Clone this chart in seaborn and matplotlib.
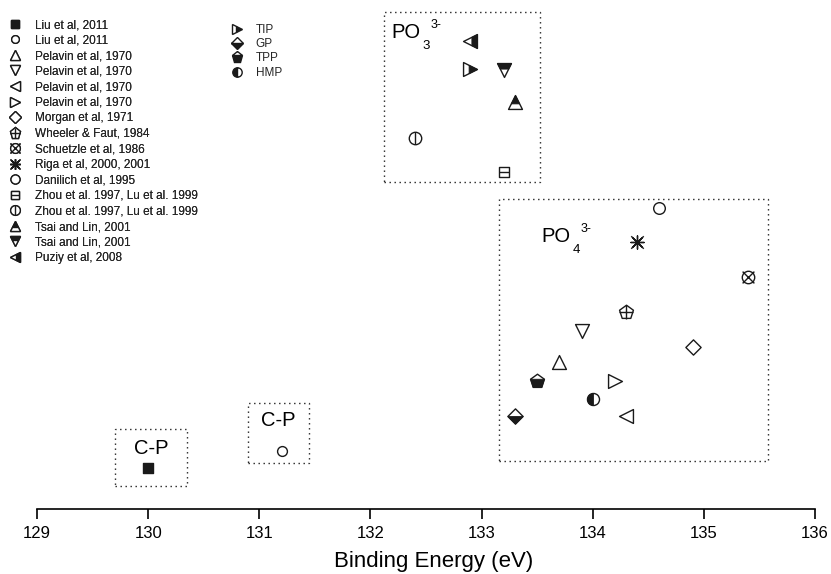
import warnings
warnings.filterwarnings("ignore")
import matplotlib
matplotlib.use("Agg")
import matplotlib.pyplot as plt
import seaborn as sns
from matplotlib.markers import MarkerStyle
from matplotlib.lines import Line2D
from matplotlib.patches import Rectangle
from matplotlib.legend_handler import HandlerTuple

# ---------------- data ----------------
ref_labels = ["Liu et al, 2011", "Liu et al, 2011",
              "Pelavin et al, 1970", "Pelavin et al, 1970",
              "Pelavin et al, 1970", "Pelavin et al, 1970",
              "Morgan et al, 1971", "Wheeler & Faut, 1984",
              "Schuetzle et al, 1986", "Riga et al, 2000, 2001",
              "Danilich et al, 1995", "Zhou et al. 1997, Lu et al. 1999",
              "Zhou et al. 1997, Lu et al. 1999", "Tsai and Lin, 2001",
              "Tsai and Lin, 2001", "Puziy et al, 2008"]
ref_be = [130.0, 131.2, 133.7, 133.9, 134.3, 134.2, 134.9, 134.3,
          135.4, 134.4, 134.6, 133.2, 132.4, 133.3, 133.2, 132.9]
ref_y = [41, 58, 147, 178, 93, 128, 162, 197,
         232, 267, 301, 337, 371, 407, 439, 468]

comp_labels = ["TIP", "GP", "TPP", "HMP"]
comp_be = [132.9, 133.3, 133.5, 134.0]
comp_y = [440, 93, 128, 110]

xticks = [129, 130, 131, 132, 133, 134, 135, 136]

# group boxes: (x0, x1, y0, y1) and labels
box_x0 = [129.70, 130.90, 132.12, 133.16]
box_x1 = [130.35, 131.45, 133.53, 135.58]
box_y0 = [23, 46, 327, 48]
box_y1 = [80, 106, 497, 310]
group_text = ["C-P", "C-P", "PO", "PO"]
group_sub = [None, None, "3", "4"]
group_sup = [None, None, "3-", "3-"]
group_tx = [130.03, 131.17, 132.19, 133.54]
group_ty = [55, 83, 471, 267]
group_ha = ["center", "center", "left", "left"]

# ---------------- styles ----------------
ref_markers = ['s', 'o', '^', 'v', '<', '>', 'D', 'p', 'o', (8, 2, 0),
               'o', 's', 'o', '^', 'v', '<']
ref_fills = ['full', 'none', 'none', 'none', 'none', 'none', 'none', 'none',
             'none', 'line', 'none', 'none', 'none', 'top', 'top', 'right']
ref_extra = [None, None, None, None, None, None, None, '+', 'x', 'x',
             None, '_', '|', None, None, None]
ref_sizes = [50, 50, 100, 100, 100, 100, 60, 110, 80, 90, 70, 55, 80,
             100, 100, 100]

comp_markers = ['>', 'D', 'p', 'o']
comp_fills = ['right', 'bottom', 'bottom', 'left']
comp_sizes = [100, 60, 110, 75]

sns.set_theme(style="white")
plt.rcParams['font.family'] = ['Liberation Sans', 'DejaVu Sans']

fig = plt.figure(figsize=(8.31, 5.74), dpi=100)
ax = fig.add_axes([37 / 831, 1 - 509 / 574, 778 / 831, 507 / 574])


def draw_point(x, y, m, fill, extra, s):
    if fill == 'full':
        sns.scatterplot(x=[x], y=[y], marker=m, s=s, color='k',
                        edgecolor='k', linewidth=1, ax=ax, zorder=3)
    elif fill == 'line':
        sns.scatterplot(x=[x], y=[y], marker=m, s=s, color='k',
                        linewidth=1, ax=ax, zorder=3)
    else:
        sns.scatterplot(x=[x], y=[y], marker=m, s=s, facecolor='white',
                        edgecolor='k', linewidth=1, ax=ax, zorder=3)
        if fill != 'none':
            sns.scatterplot(x=[x], y=[y], marker=MarkerStyle(m, fillstyle=fill),
                            s=s, color='k', edgecolor='k', linewidth=0.6,
                            ax=ax, zorder=4)
    if extra is not None:
        sns.scatterplot(x=[x], y=[y], marker=extra, s=s * 0.9, color='k',
                        linewidth=1, ax=ax, zorder=5)


for i in range(len(ref_be)):
    draw_point(ref_be[i], ref_y[i], ref_markers[i], ref_fills[i],
               ref_extra[i], ref_sizes[i])
for i in range(len(comp_be)):
    draw_point(comp_be[i], comp_y[i], comp_markers[i], comp_fills[i],
               None, comp_sizes[i])

# dotted group boxes and labels
for i in range(len(box_x0)):
    ax.add_patch(Rectangle((box_x0[i], box_y0[i]), box_x1[i] - box_x0[i],
                           box_y1[i] - box_y0[i], fill=False, edgecolor='#222222',
                           linewidth=1, linestyle=(0, (1, 2.6)), zorder=2))
    ax.text(group_tx[i], group_ty[i], group_text[i], ha=group_ha[i],
            va='baseline', fontsize=14.5, color='black')
    if group_sub[i] is not None:
        ax.annotate(group_sub[i], xy=(group_tx[i], group_ty[i]),
                    xytext=(22.5, -8), textcoords='offset points',
                    ha='left', va='baseline', fontsize=9.5, color='black')
    if group_sup[i] is not None:
        ax.annotate(group_sup[i], xy=(group_tx[i], group_ty[i]),
                    xytext=(28, 7), textcoords='offset points',
                    ha='left', va='baseline', fontsize=9, color='black')


# legends
def make_handle(m, fill, extra, s):
    ms = s ** 0.5 * 0.78
    if fill == 'full':
        h = Line2D([], [], marker=m, linestyle='', color='k', markersize=ms)
    elif fill == 'line':
        h = Line2D([], [], marker=m, linestyle='', color='k', markersize=ms,
                   markeredgewidth=1)
    elif fill == 'none':
        h = Line2D([], [], marker=m, linestyle='', markerfacecolor='white',
                   markeredgecolor='k', markersize=ms, markeredgewidth=1)
    else:
        h = Line2D([], [], marker=m, linestyle='', fillstyle=fill,
                   markerfacecolor='k', markerfacecoloralt='white',
                   markeredgecolor='k', markersize=ms, markeredgewidth=1)
    if extra is not None:
        e = Line2D([], [], marker=extra, linestyle='', color='k',
                   markersize=ms * 0.95, markeredgewidth=1)
        return (h, e)
    return h


h1 = [make_handle(ref_markers[i], ref_fills[i], ref_extra[i], ref_sizes[i])
      for i in range(len(ref_labels))]
leg1 = ax.legend(h1, ref_labels, loc='upper left',
                 bbox_to_anchor=(7 / 831, 1 - 19 / 574),
                 bbox_transform=fig.transFigure, frameon=False, fontsize=8.5,
                 handlelength=1.4, handletextpad=1.0, labelspacing=0.30,
                 borderpad=0, borderaxespad=0,
                 handler_map={tuple: HandlerTuple(ndivide=1)})
ax.add_artist(leg1)

h2 = [make_handle(comp_markers[i], comp_fills[i], None, comp_sizes[i])
      for i in range(len(comp_labels))]
fig.legend(h2, comp_labels, loc='upper left',
           bbox_to_anchor=(229 / 831, 1 - 24 / 574),
           bbox_transform=fig.transFigure, frameon=False, fontsize=8.5,
           handlelength=1.4, handletextpad=0.85, labelspacing=0.19,
           borderpad=0, borderaxespad=0)

# axes
ax.set_xlim(129, 136)
ax.set_ylim(0, 507)
ax.set_xticks(xticks)
ax.set_xticklabels([str(t) for t in xticks])
ax.set_yticks([])
for sp in ['top', 'right', 'left']:
    ax.spines[sp].set_visible(False)
ax.spines['bottom'].set_color('black')
ax.spines['bottom'].set_linewidth(1.2)
ax.tick_params(axis='x', direction='out', length=7, width=1.2, colors='black',
               labelsize=12, pad=5, bottom=True)
ax.set_xlabel("Binding Energy (eV)", fontsize=16, color='black')
ax.xaxis.set_label_coords(0.51, -0.082)
ax.patch.set_visible(False)

fig.savefig("out.png", dpi=100)
